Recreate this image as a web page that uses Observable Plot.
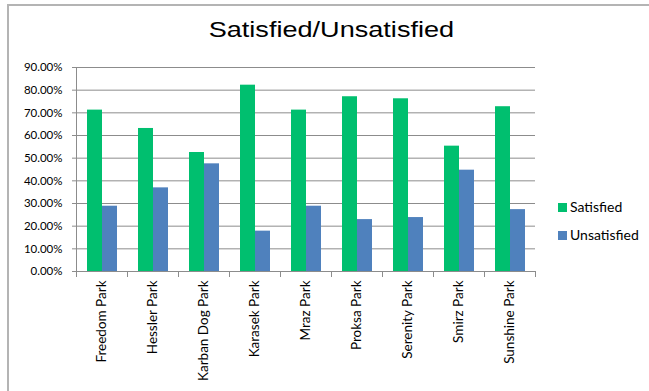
<!DOCTYPE html>
<html><head><meta charset="utf-8">
<script src="https://cdn.jsdelivr.net/npm/d3@7"></script>
<script src="https://cdn.jsdelivr.net/npm/@observablehq/plot@0.6"></script>
<style>
body{margin:0;background:#fff;}
#wrap{position:relative;width:649px;height:391px;overflow:hidden;background:#fff;}
#border{position:absolute;left:7px;top:4px;width:700px;height:500px;border-top:2px solid #b4b4b4;border-left:2px solid #b4b4b4;}
#chart{position:absolute;left:0;top:0;}
#title{position:absolute;left:8px;width:646px;top:20px;text-align:center;font-family:"Liberation Sans",Arial,sans-serif;font-size:21.5px;line-height:21.5px;color:#000;}
#title span{display:inline-block;transform:scaleX(1.26);}
#legend{position:absolute;left:558px;top:200px;font-family:Lato,sans-serif;font-size:14px;line-height:14px;color:#000;}
.row{display:flex;align-items:center;height:14px;margin-bottom:14px;white-space:nowrap;}
.sw{width:9px;height:9px;margin-right:3px;flex:none;}
</style></head>
<body><div id="wrap"><div id="border"></div><div id="chart"></div><div id="title"><span></span></div><div id="legend"></div></div>
<script>
const title = "Satisfied/Unsatisfied";
const parks = ["Freedom Park","Hessler Park","Karban Dog Park","Karasek Park","Mraz Park","Proksa Park","Serenity Park","Smirz Park","Sunshine Park"];
const seriesNames = ["Satisfied","Unsatisfied"];
const satisfied = [0.712,0.631,0.525,0.822,0.712,0.771,0.762,0.553,0.727];
const unsatisfied = [0.288,0.369,0.475,0.178,0.288,0.229,0.238,0.447,0.273];
const seriesColors = ["#00BF6F","#4F81BD"];
const yTicks = [0,0.1,0.2,0.3,0.4,0.5,0.6,0.7,0.8,0.9];

const data = parks.flatMap((p,i)=>[
  {park:p, series:seriesNames[0], value:satisfied[i]},
  {park:p, series:seriesNames[1], value:unsatisfied[i]}
]);

const W=649, H=391, mL=76, mR=114, mT=67, mB=120;
const plotH = H - mT - mB;
const gray = "#8c8c8c";

const chart = Plot.plot({
  width:W, height:H, marginLeft:mL, marginRight:mR, marginTop:mT, marginBottom:mB,
  style:{fontFamily:"Lato, sans-serif", background:"transparent", color:"#000", overflow:"visible"},
  fx:{domain:parks, padding:0, label:null},
  x:{domain:seriesNames, paddingInner:0, paddingOuter:0.7, axis:null},
  y:{domain:[0,0.9], axis:null, label:null},
  color:{domain:seriesNames, range:seriesColors},
  marks:[
    Plot.ruleY(yTicks, {stroke:gray, strokeWidth:1}),
    Plot.frame({anchor:"left", facet:"super", stroke:gray}),
    Plot.frame({anchor:"left", insetTop:plotH, insetBottom:-5, stroke:gray}),
    Plot.frame({anchor:"right", insetTop:plotH, insetBottom:-5, stroke:gray}),
    Plot.barY(data, {fx:"park", x:"series", y:"value", fill:"series"}),
    Plot.axisY({ticks:yTicks, tickFormat:".2%", tickSize:4, tickPadding:10, fontSize:11.5, stroke:gray, fill:"#000", label:null}),
    Plot.axisFx({anchor:"bottom", tickRotate:-90, tickSize:0, tickPadding:9, fontSize:13.5, label:null, fill:"#000"})
  ]
});
document.getElementById("chart").appendChild(chart);
document.querySelector("#title span").textContent = title;

const legend = document.getElementById("legend");
seriesNames.forEach((s,i)=>{
  const row = document.createElement("div"); row.className="row";
  const sw = document.createElement("div"); sw.className="sw"; sw.style.background = seriesColors[i];
  const t = document.createElement("span"); t.textContent = s;
  row.appendChild(sw); row.appendChild(t); legend.appendChild(row);
});
</script>
</body></html>
